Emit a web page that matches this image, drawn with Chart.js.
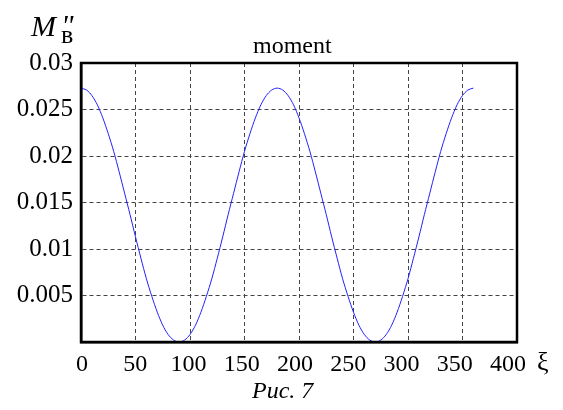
<!DOCTYPE html>
<html>
<head>
<meta charset="utf-8">
<script src="https://cdn.jsdelivr.net/npm/chart.js@4.4.1/dist/chart.umd.min.js"></script>
<style>
  html, body { margin: 0; padding: 0; background: #fff; }
  #wrap { position: relative; width: 563px; height: 410px; }
  canvas { position: absolute; left: 0; top: 0; }
  .t { position: absolute; font-family: "Liberation Serif", "Times New Roman", serif; color: #000; white-space: nowrap; line-height: 1; }
</style>
</head>
<body>
<div id="wrap">
  <canvas id="c" width="563" height="410"></canvas>
  <div class="t" style="left:31px; top:11px; font-size:30px;"><i>M</i></div>
  <div class="t" style="left:61px; top:10px; font-size:30px;"><i>"</i></div>
  <div class="t" style="left:61px; top:22px; font-size:26px;">в</div>
  <div class="t" style="left:253px; top:33px; font-size:24px;">moment</div>
  <div class="t" style="left:537px; top:349px; font-size:26px;">ξ</div>
  <div class="t" style="left:252px; top:378px; font-size:24px;"><i>Рис. 7</i></div>
</div>
<script>
// ξ values (degrees)
const xiValues = [0,5,10,15,20,25,30,35,40,45,50,55,60,65,70,75,80,85,90,95,100,105,110,115,120,125,130,135,140,145,150,155,160,165,170,175,180,185,190,195,200,205,210,215,220,225,230,235,240,245,250,255,260,265,270,275,280,285,290,295,300,305,310,315,320,325,330,335,340,345,350,355,360];
// moment values
const momentValues = [0.0273,0.0271,0.0265,0.0255,0.0241,0.0224,0.0205,0.0183,0.0160,0.0137,0.0113,0.0090,0.0068,0.0049,0.0032,0.0018,0.0008,0.0002,0.0000,0.0002,0.0008,0.0018,0.0032,0.0049,0.0068,0.0090,0.0113,0.0137,0.0160,0.0183,0.0205,0.0224,0.0241,0.0255,0.0265,0.0271,0.0273,0.0271,0.0265,0.0255,0.0241,0.0224,0.0205,0.0183,0.0160,0.0137,0.0113,0.0090,0.0068,0.0049,0.0032,0.0018,0.0008,0.0002,0.0000,0.0002,0.0008,0.0018,0.0032,0.0049,0.0068,0.0090,0.0113,0.0137,0.0160,0.0183,0.0205,0.0224,0.0241,0.0255,0.0265,0.0271,0.0273];
const xTicks = [0,50,100,150,200,250,300,350,400];
const yTicks = [0.005,0.01,0.015,0.02,0.025,0.03];

const points = xiValues.map((x, i) => ({ x: x, y: momentValues[i] }));
const serif = '"Liberation Serif", "Times New Roman", serif';

const frame = {
  id: 'frame',
  afterDraw(chart) {
    const { ctx, chartArea: a } = chart;
    ctx.save();
    ctx.strokeStyle = '#000';
    ctx.lineWidth = 2.5;
    ctx.strokeRect(a.left, a.top, a.right - a.left, a.bottom - a.top);
    ctx.restore();
  }
};

new Chart(document.getElementById('c'), {
  type: 'line',
  data: {
    datasets: [{
      data: points,
      xAxisID: 'x',
      yAxisID: 'y',
      borderColor: '#2020ff',
      borderWidth: 1,
      pointRadius: 0,
      tension: 0.3,
      fill: false
    }]
  },
  options: {
    responsive: false,
    animation: false,
    plugins: { legend: { display: false }, tooltip: { enabled: false } },
    layout: { padding: { top: 63, right: 46, bottom: 0, left: 0 } },
    scales: {
      x: {
        type: 'linear',
        position: 'bottom',
        weight: 0,
        min: 0, max: 400,
        afterBuildTicks: s => { s.ticks = xTicks.map(v => ({ value: v })); },
        afterFit: s => { s.height = 0; },
        ticks: { display: false },
        grid: {
          drawTicks: false,
          color: ctx => (ctx.tick && (ctx.tick.value === 0 || ctx.tick.value === 400)) ? 'rgba(0,0,0,0)' : '#444',
          lineWidth: 1
        },
        border: { display: true, color: '#000', width: 2.5, dash: [4, 3] }
      },
      // label axis: tick labels of the printed figure sit slightly compressed
      xLabels: {
        type: 'linear',
        position: 'bottom',
        weight: 1,
        min: -0.94, max: 408.4,
        afterBuildTicks: s => { s.ticks = xTicks.map(v => ({ value: v })); },
        afterFit: s => { s.height = 68; },
        ticks: { color: '#000', font: { family: serif, size: 24 }, padding: 8, maxRotation: 0, autoSkip: false },
        grid: { display: false, drawTicks: false },
        border: { display: false }
      },
      y: {
        type: 'linear',
        min: 0, max: 0.03,
        afterBuildTicks: s => { s.ticks = [0].concat(yTicks).map(v => ({ value: v })); },
        afterFit: s => { s.width = 81; },
        ticks: {
          color: '#000', font: { family: serif, size: 25 }, padding: 8, autoSkip: false,
          callback: v => v === 0 ? '' : String(parseFloat(v.toFixed(3)))
        },
        grid: {
          drawTicks: false,
          color: ctx => (ctx.tick && (ctx.tick.value === 0 || Math.abs(ctx.tick.value - 0.03) < 1e-9)) ? 'rgba(0,0,0,0)' : '#444',
          lineWidth: 1
        },
        border: { display: true, color: '#000', width: 2.5, dash: [4, 3] }
      }
    }
  },
  plugins: [frame]
});
</script>
</body>
</html>
